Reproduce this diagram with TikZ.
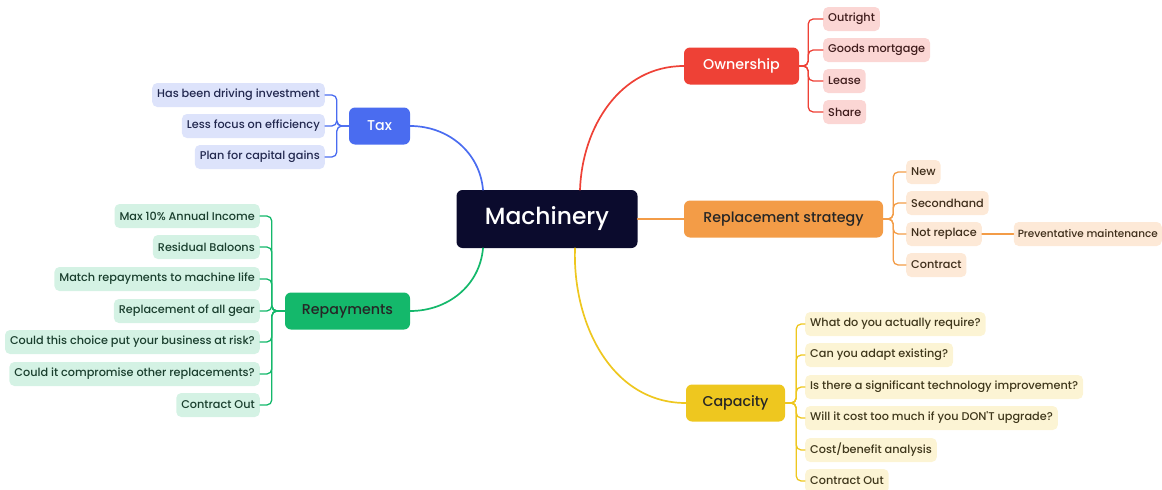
\documentclass[tikz,border=0pt]{standalone}
\usepackage{fontspec}
\setmainfont{Poppins}
\newfontfamily\medfont{Poppins Medium}
\definecolor{coreblue}{HTML}{0B0B2D}
\definecolor{taxcol}{HTML}{4A6CF0}
\definecolor{taxfill}{HTML}{DDE3FB}
\definecolor{taxtext}{HTML}{22284F}
\definecolor{owncol}{HTML}{EE4136}
\definecolor{ownfill}{HTML}{FBD6D4}
\definecolor{owntext}{HTML}{3F1C1C}
\definecolor{repcol}{HTML}{F39C47}
\definecolor{repfill}{HTML}{FDE9D7}
\definecolor{reptext}{HTML}{3F2E1B}
\definecolor{capcol}{HTML}{EEC71F}
\definecolor{capfill}{HTML}{FCF4D4}
\definecolor{captext}{HTML}{3F371B}
\definecolor{paycol}{HTML}{14B86B}
\definecolor{payfill}{HTML}{D4F2E4}
\definecolor{paytext}{HTML}{1A3F2E}
\begin{document}
\begin{tikzpicture}[line cap=round,line join=round,
  leaf/.style={rectangle,rounded corners=5bp,minimum height=24bp,inner xsep=5bp,inner ysep=0pt,font=\medfont\fontsize{11.3}{12}\selectfont},
  branch/.style={rectangle,rounded corners=6bp,minimum height=37bp,inner sep=0pt,font=\medfont\fontsize{14.3}{16}\selectfont},
  link/.style={line width=1.7bp},
  fork/.style={line width=1.3bp,rounded corners=5bp},
]
\useasboundingbox (0bp,0bp) rectangle (1162bp,-490bp);
%%
  % Node: Machinery
  \node[fill=coreblue,text=white,rounded corners=6bp,minimum width=181bp,minimum height=58bp,inner sep=0pt,font=\medfont\fontsize{23.5}{28}\selectfont] (Machinery) at (547bp,-219bp) {Machinery};
  % Node: Ownership
  \node[branch,fill=owncol,text=white,minimum width=115bp] (Ownership) at (741.5bp,-66bp) {Ownership};
  % Node: ReplacementStrategy
  \node[branch,fill=repcol,text=black!85,minimum width=199bp] (ReplacementStrategy) at (783.5bp,-219bp) {Replacement strategy};
  % Node: Capacity
  \node[branch,fill=capcol,text=black!85,minimum width=99bp] (Capacity) at (735.5bp,-403bp) {Capacity};
  % Node: Tax
  \node[branch,fill=taxcol,text=white,minimum width=61bp] (Tax) at (379.5bp,-126bp) {Tax};
  % Node: Repayments
  \node[branch,fill=paycol,text=black!85,minimum width=125bp] (Repayments) at (347.5bp,-311bp) {Repayments};
%
  % Leaves: Ownership
  \node[leaf,fill=ownfill,text=owntext,anchor=west] (Outright) at (823bp,-19bp) {Outright};
  \node[leaf,fill=ownfill,text=owntext,anchor=west] (GoodsMortgage) at (823bp,-50bp) {Goods mortgage};
  \node[leaf,fill=ownfill,text=owntext,anchor=west] (Lease) at (823bp,-81bp) {Lease};
  \node[leaf,fill=ownfill,text=owntext,anchor=west] (Share) at (823bp,-112bp) {Share};
  % Leaves: ReplacementStrategy
  \node[leaf,fill=repfill,text=reptext,anchor=west] (New) at (906bp,-172bp) {New};
  \node[leaf,fill=repfill,text=reptext,anchor=west] (Secondhand) at (906bp,-203bp) {Secondhand};
  \node[leaf,fill=repfill,text=reptext,anchor=west] (NotReplace) at (906bp,-234bp) {Not replace};
  \node[leaf,fill=repfill,text=reptext,anchor=west] (Contract) at (906bp,-265bp) {Contract};
  \node[leaf,fill=repfill,text=reptext,anchor=east,inner xsep=4bp,font=\medfont\fontsize{10.5}{12}\selectfont] (PreventativeMaintenance) at (1162bp,-234bp) {Preventative maintenance};
  % Leaves: Capacity
  \node[leaf,fill=capfill,text=captext,anchor=west] (WhatRequire) at (805bp,-324bp) {What do you actually require?};
  \node[leaf,fill=capfill,text=captext,anchor=west] (AdaptExisting) at (805bp,-355bp) {Can you adapt existing?};
  \node[leaf,fill=capfill,text=captext,anchor=west] (TechImprovement) at (805bp,-387bp) {Is there a significant technology improvement?};
  \node[leaf,fill=capfill,text=captext,anchor=west] (CostTooMuch) at (805bp,-418bp) {Will it cost too much if you DON'T upgrade?};
  \node[leaf,fill=capfill,text=captext,anchor=west] (CostBenefit) at (805bp,-450bp) {Cost/benefit analysis};
  \node[leaf,fill=capfill,text=captext,anchor=west] (CapContractOut) at (805bp,-481bp) {Contract Out};
  % Leaves: Tax
  \node[leaf,fill=taxfill,text=taxtext,anchor=east] (DrivingInvestment) at (325bp,-95bp) {Has been driving investment};
  \node[leaf,fill=taxfill,text=taxtext,anchor=east] (LessFocus) at (325bp,-126bp) {Less focus on efficiency};
  \node[leaf,fill=taxfill,text=taxtext,anchor=east] (CapitalGains) at (325bp,-157bp) {Plan for capital gains};
  % Leaves: Repayments
  \node[leaf,fill=payfill,text=paytext,anchor=east] (MaxIncome) at (260bp,-216bp) {Max 10\% Annual Income};
  \node[leaf,fill=payfill,text=paytext,anchor=east] (ResidualBaloons) at (260bp,-247bp) {Residual Baloons};
  \node[leaf,fill=payfill,text=paytext,anchor=east] (MatchLife) at (260bp,-279bp) {Match repayments to machine life};
  \node[leaf,fill=payfill,text=paytext,anchor=east] (AllGear) at (260bp,-311bp) {Replacement of all gear};
  \node[leaf,fill=payfill,text=paytext,anchor=east] (BusinessRisk) at (260bp,-342bp) {Could this choice put your business at risk?};
  \node[leaf,fill=payfill,text=paytext,anchor=east] (CompromiseOther) at (260bp,-374bp) {Could it compromise other replacements?};
  \node[leaf,fill=payfill,text=paytext,anchor=east] (RepContractOut) at (260bp,-405bp) {Contract Out};
%%
  % Edge: Machinery -> Tax
  \draw[link,taxcol] ([xshift=-64bp]Machinery.north) to[out=95,in=0] (Tax.east);
  % Edge: Machinery -> Ownership
  \draw[link,owncol] ([xshift=33bp]Machinery.north) to[out=88,in=180] (Ownership.west);
  % Edge: Machinery -> ReplacementStrategy
  \draw[link,repcol] (Machinery.east) -- (ReplacementStrategy.west);
  % Edge: Machinery -> Capacity
  \draw[link,capcol] ([xshift=28bp]Machinery.south) to[out=-92,in=180] (Capacity.west);
  % Edge: Machinery -> Repayments
  \draw[link,paycol] ([xshift=-64bp]Machinery.south) to[out=-95,in=0] (Repayments.east);
%
  % Forks
  \foreach \leaf in {Outright,GoodsMortgage,Lease,Share}
    \draw[fork,owncol] (Ownership.east) -- ++(9bp,0) |- (\leaf.west);
  \foreach \leaf in {New,Secondhand,NotReplace,Contract}
    \draw[fork,repcol] (ReplacementStrategy.east) -- ++(10bp,0) |- (\leaf.west);
  \draw[fork,repcol] (NotReplace.east) -- (PreventativeMaintenance.west);
  \foreach \leaf in {WhatRequire,AdaptExisting,TechImprovement,CostTooMuch,CostBenefit,CapContractOut}
    \draw[fork,capcol] (Capacity.east) -- ++(11bp,0) |- (\leaf.west);
  \foreach \leaf in {DrivingInvestment,LessFocus,CapitalGains}
    \draw[fork,taxcol] (Tax.west) -- ++(-12bp,0) |- (\leaf.east);
  \foreach \leaf in {MaxIncome,ResidualBaloons,MatchLife,AllGear,BusinessRisk,CompromiseOther,RepContractOut}
    \draw[fork,paycol] (Repayments.west) -- ++(-13bp,0) |- (\leaf.east);
%
\end{tikzpicture}
\end{document}
